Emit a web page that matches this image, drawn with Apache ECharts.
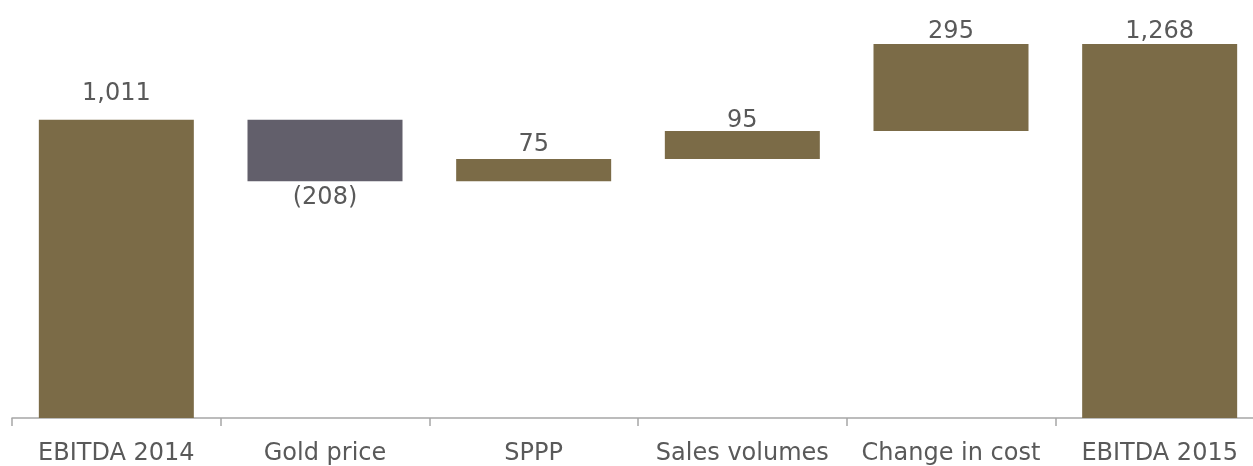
<!DOCTYPE html>
<html>
<head>
<meta charset="utf-8">
<script src="https://cdn.jsdelivr.net/npm/echarts@6/dist/echarts.min.js"></script>
<style>
html,body{margin:0;padding:0;background:#fff;overflow:hidden;}
#chart{width:1270px;height:466px;}
</style>
</head>
<body>
<div id="chart"></div>
<script>
var categories = ['EBITDA 2014', 'Gold price', 'SPPP', 'Sales volumes', 'Change in cost', 'EBITDA 2015'];
var changes = [1011, -208, 75, 95, 295, 1268];
var isTotal = [true, false, false, false, false, true];

var POS = '#7B6B47', NEG = '#625F6B', TXT = '#595959';
var FONT = 'DejaVu Sans, Verdana, sans-serif';

var base = [], vis = [];
var running = 0;
for (var i = 0; i < changes.length; i++) {
  var v = changes[i];
  if (isTotal[i]) {
    base.push(0); vis.push(v); running = v;
  } else if (v >= 0) {
    base.push(running); vis.push(v); running += v;
  } else {
    running += v; base.push(running); vis.push(-v);
  }
}
function fmt(v) {
  var s = Math.abs(v).toString().replace(/\B(?=(\d{3})+(?!\d))/g, ',');
  return v < 0 ? '(' + s + ')' : s;
}
var extraDist = [14, 5, 2, -2, 0, 0];

var visData = vis.map(function (v, i) {
  var neg = changes[i] < 0;
  return {
    value: v,
    itemStyle: { color: neg ? NEG : POS },
    label: {
      show: true,
      position: neg ? 'bottom' : 'top',
      distance: extraDist[i],
      formatter: fmt(changes[i])
    }
  };
});

var chart = echarts.init(document.getElementById('chart'));
chart.setOption({
  animation: false,
  textStyle: { fontFamily: FONT },
  grid: { left: 12, top: 44, bottom: 44, right: 6, containLabel: false },
  xAxis: {
    type: 'category',
    data: categories,
    axisLine: { lineStyle: { color: '#A6A6A6', width: 1.5 } },
    axisTick: { show: true, length: 8, lineStyle: { color: '#A6A6A6', width: 1.5 } },
    axisLabel: { color: TXT, fontSize: 24, fontFamily: FONT, margin: 24, interval: 0 }
  },
  yAxis: {
    type: 'value', min: 0, max: 1268,
    show: false, splitLine: { show: false }
  },
  series: [
    {
      type: 'bar', stack: 'w', data: base, barWidth: 155,
      itemStyle: { color: 'transparent' }, silent: true
    },
    {
      type: 'bar', stack: 'w', data: visData, barWidth: 155,
      label: { color: TXT, fontSize: 24, fontFamily: FONT }
    }
  ]
});
</script>
</body>
</html>
